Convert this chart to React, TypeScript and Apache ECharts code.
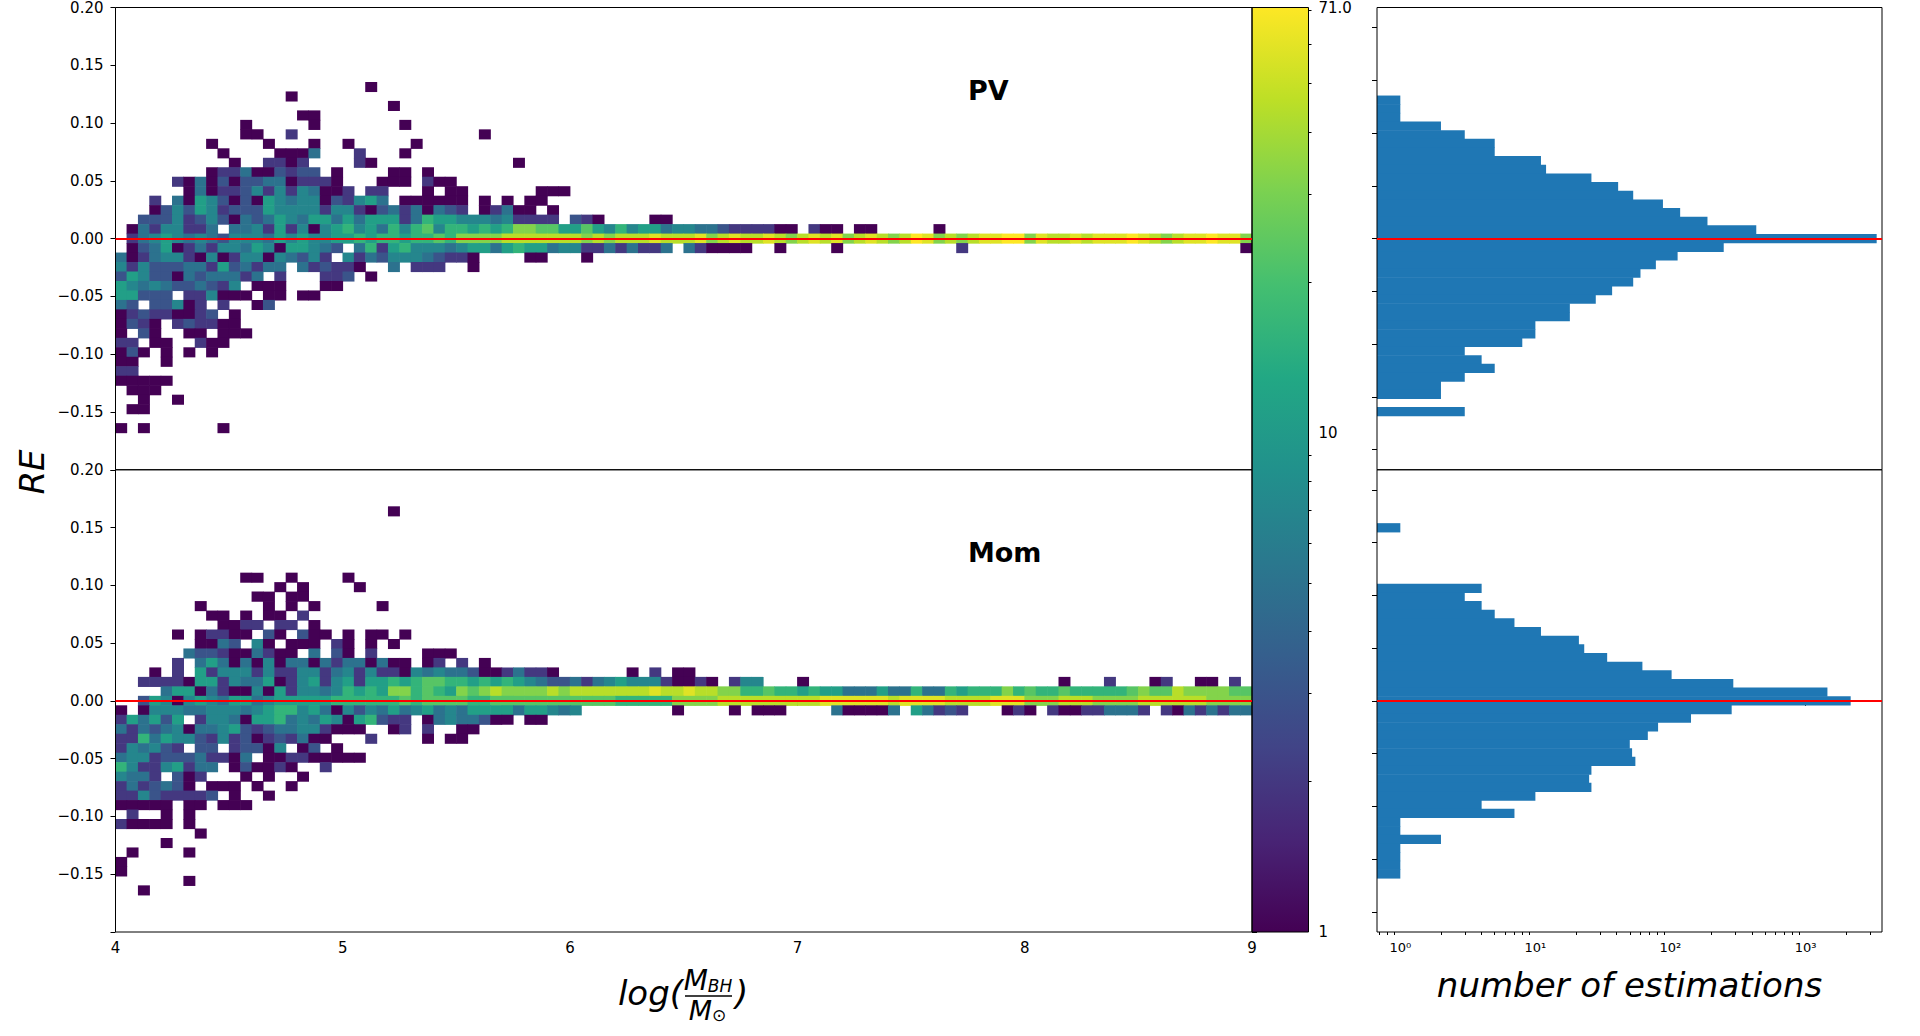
import React, { useEffect, useRef } from 'react';
import * as echarts from 'echarts';

// ------------------------------------------------------------------ data
const X_START = 4; // first x-bin edge  (log M_BH / M_sun)
const X_BIN = 0.05; // x-bin width
const Y_BIN = 0.0082; // RE bin height, rows centred on k * Y_BIN

const xTickValues = [4, 5, 6, 7, 8, 9];
const reTickValues = [-0.2, -0.15, -0.1, -0.05, 0, 0.05, 0.1, 0.15, 0.2];
const colorbarMajor = [1, 10, 71];
const colorbarMinor = [2, 3, 4, 5, 6, 7, 8, 9, 20, 30, 40, 50, 60, 70];
const histMajor = [1, 10, 100, 1000];
const histMinor = [0.7, 0.8, 0.9, 2, 3, 4, 5, 6, 7, 8, 9, 20, 30, 40, 50, 60, 70, 80, 90, 200, 300, 400, 500, 600, 700, 800, 900, 2000, 3000];
const panelNames = ['PV', 'Mom'];
const panelNamePos = [7.75, 0.1285];

const COUNT_MAX = 71;
// colour-level code -> number of estimations in the cell
const levelCounts: Record<string, number> = { '1': 1, '2': 2, '3': 3, '4': 5, '5': 7, '6': 11, '7': 16, '8': 23, '9': 32, a: 45, b: 58, c: 71 };

type Seg = [number, string]; // [first column index, level codes ('.' = empty)]

// PV panel: [row k, segments]
const pvRows: [number, Seg[]][] = [
  [16, [[22, '1']]],
  [15, [[15, '1']]],
  [14, [[24, '1']]],
  [13, [[16, '11']]],
  [12, [[11, '1'], [17, '1'], [25, '1']]],
  [11, [[11, '11'], [15, '2'], [32, '1']]],
  [10, [[8, '1'], [13, '1'], [17, '1'], [20, '1'], [26, '1']]],
  [9, [[9, '1'], [14, '1114'], [21, '2'], [25, '1']]],
  [8, [[10, '1'], [13, '2212'], [21, '21'], [35, '1']]],
  [7, [[8, '1224113233'], [19, '1'], [24, '11'], [27, '1']]],
  [6, [[5, '214131334412221'], [23, '111'], [27, '211']]],
  [5, [[6, '14122352525411'], [20, '2'], [22, '22'], [27, '1'], [29, '11'], [37, '111']]],
  [4, [[3, '2.4165313165455132564.111111'], [32, '1'], [34, '1'], [36, '11']]],
  [3, [[3, '1353652333655552552134241432.12411.1']]],
  [2, [[2, '3335235314346546646466624766555452222.321'], [47, '11']]],
  [1, [[1, '14255224.44526251567564757857767679988668657566455443222211.211.11'], [72, '1']]],
  [0, [[1, '24565' + '45435' + '55465' + '65566' + '76776' + '77879' + '999aa' + 'aaaaa' + '9a9aa' + 'abaaa' + 'b9aba' + 'aba9a' + 'bab9a' + 'ba9ac' + 'b9a9a' + 'bbcc9' + 'baaba' + 'bbbcb' + 'a9abb' + 'cbb9']]],
  [-1, [[1, '13461' + '24255' + '46516' + '6543.' + '47267' + '55545' + '66467' + '66455' + '22424' + '224.4' + '21111'], [58, '1'], [63, '1'], [74, '2'], [99, '1']]],
  [-2, [[0, '41245' + '52151' + '25515' + '4352.' + '52435' + '55432' + '21'], [36, '11'], [41, '1']]],
  [-3, [[0, '52533' + '34426' + '34244' + '.4232' + '21'], [24, '4'], [26, '222'], [31, '1']]],
  [-4, [[0, '36533' + '14344' + '424.2'], [18, '223'], [22, '1']]],
  [-5, [[0, '65454' + '33432' + '5.111'], [18, '11']]],
  [-6, [[0, '66333' + '.2251' + '11.11'], [16, '11']]],
  [-7, [[0, '43.33512.2'], [12, '13']]],
  [-8, [[0, '123221123'], [10, '1']]],
  [-9, [[0, '1321.232211']]],
  [-10, [[0, '1.31..11.111']]],
  [-11, [[0, '22.11..211']]],
  [-12, [[0, '131.1.1.1']]],
  [-13, [[0, '11..1']]],
  [-14, [[0, '22']]],
  [-15, [[0, '11111']]],
  [-16, [[1, '111']]],
  [-17, [[2, '1'], [5, '1']]],
  [-18, [[1, '11']]],
  [-20, [[0, '1.1'], [9, '1']]],
];

// Mom panel
const momRows: [number, Seg[]][] = [
  [20, [[24, '1']]],
  [13, [[11, '11'], [15, '1'], [20, '1']]],
  [12, [[14, '1'], [16, '1'], [21, '1']]],
  [11, [[12, '11'], [15, '11']]],
  [10, [[7, '1'], [13, '1'], [15, '1'], [17, '1'], [23, '1']]],
  [9, [[8, '11'], [11, '1'], [13, '11'], [16, '2']]],
  [8, [[9, '1122'], [14, '22'], [17, '1']]],
  [7, [[5, '1.12211.31.311.1.11.1']]],
  [6, [[7, '1143.51.111.21.1.1']]],
  [5, [[6, '4332114211.4.31.2'], [27, '111']]],
  [4, [[5, '2.4641415144142441411.12.2.1']]],
  [3, [[3, '1.2.62555252255245252215454431124221'], [45, '1.2.11']]],
  [2, [[2, '22221' + '66254' + '46125' + '62562' + '66767' + '88776' + '76765' + '43342' + '45655' + '52112' + '1.255'], [60, '1'], [83, '1'], [87, '2'], [91, '12'], [95, '11'], [98, '2']]],
  [1, [[4, '46614' + '21151' + '62554' + '57676' + '99787' + '6989a' + '9999a' + '9aaaa' + 'aaaba' + 'abaa9' + '97787' + '76766' + '44464' + '47447' + '67779' + '78778' + '77777' + '8988a' + '99998' + '8']]],
  [0, [[2, '36515' + '65466' + '45666' + '66777' + '77787' + '88887' + '78888' + '88888' + '88777' + '77999' + '9' + 'aaaaaaaaa' + 'bbbbbb' + 'a' + 'bbbb' + 'aaaa' + 'bbb' + '999' + 'aaa' + '9999' + 'aaaaaa' + '9999']]],
  [-1, [[0, '1.155' + '54455' + '54567' + '75641' + '53546' + '45645' + '46666' + '46654' + '5'], [49, '1'], [54, '1.111'], [63, '411114.64232'], [78, '121.211224442.21424244']]],
  [-2, [[0, '26463' + '6.255' + '41667' + '45465' + '16732' + '2.145' + '44311' + '.11']]],
  [-3, [[0, '42434' + '51445' + '63234' + '45521' + '11'], [24, '12.2'], [30, '11']]],
  [-4, [[0, '22746' + '55325' + '23123' + '2411'], [22, '2'], [27, '1.11']]],
  [-5, [[0, '254532.33.23315.13.1']]],
  [-6, [[0, '455233342214.112211111']]],
  [-7, [[0, '752256244.131121'], [18, '2']]],
  [-8, [[0, '5442.312'], [11, '1.1'], [16, '1']]],
  [-9, [[0, '2423431.111.1'], [15, '1']]],
  [-10, [[0, '225322223.1..1']]],
  [-11, [[0, '11111.11.111']]],
  [-12, [[1, '2..1.1']]],
  [-13, [[0, '21111.1']]],
  [-14, [[7, '1']]],
  [-15, [[4, '1']]],
  [-16, [[1, '1'], [6, '1']]],
  [-17, [[0, '1']]],
  [-18, [[0, '1']]],
  [-19, [[6, '1']]],
  [-20, [[2, '1']]],
];

// marginal histograms (counts per RE row, from the top row downwards)
const pvHistTopRow = 16;
const pvHistCounts = [1, 1, 1, 2, 3, 5, 5, 11, 12, 26, 41, 53, 88, 118, 188, 432, 3365, 248, 113, 78, 60, 53, 37, 28, 18, 18, 10, 10, 8, 3, 4, 5, 3, 2, 2, 0, 3];
const momHistTopRow = 20;
const momHistCounts = [1, 0, 0, 0, 0, 0, 0, 4, 3, 4, 5, 7, 11, 21, 23, 34, 62, 102, 292, 1453, 2160, 284, 142, 81, 68, 50, 52, 55, 26, 25, 26, 10, 4, 7, 1, 1, 2, 1, 1, 1, 1];

// ------------------------------------------------------------------ style / layout
const FONT = 'DejaVu Sans';
const VIRIDIS = ['#440154', '#482475', '#414487', '#355f8d', '#2a788e', '#21918c', '#22a884', '#44bf70', '#7ad151', '#bddf26', '#fde725'];
const HIST_COLOR = '#1f77b4';
const RED = '#ff0000';

const HEAT_L = 115.5;
const HEAT_R = 1252;
const CB_R = 1308.5;
const HIST_L = 1377;
const HIST_R = 1882;
const TOP = 7.5;
const MID = 469.75;
const BOT = 932;

const HIST_X_MIN = 0.672;
const HIST_X_MAX = 3684;
const HIST_Y_LIM = 0.219;

function buildCells(rows: [number, Seg[]][]) {
  const out: number[][] = [];
  for (const [k, segs] of rows) {
    for (const [start, codes] of segs) {
      for (let j = 0; j < codes.length; j++) {
        const ch = codes[j];
        if (ch === '.') continue;
        const c = levelCounts[ch];
        out.push([X_START + (start + j) * X_BIN, k * Y_BIN, c, Math.log10(c)]);
      }
    }
  }
  return out;
}

function buildHist(topRow: number, counts: number[]) {
  const out: number[][] = [];
  counts.forEach((c, i) => {
    if (c > 0) out.push([c, (topRow - i) * Y_BIN]);
  });
  return out;
}

const SUP: Record<string, string> = { '0': '\u2070', '1': '\u00b9', '2': '\u00b2', '3': '\u00b3' };

function fmtRE(v: number) {
  if (v < -0.199) return '';
  const s = Math.abs(v).toFixed(2);
  return v < -1e-9 ? '\u2212' + s : s;
}

const tickLabel = { color: '#000', fontFamily: FONT, fontSize: 15 };
const tickLine = { color: '#000', width: 1 };

function heatRender(params: any, api: any) {
  const x0 = api.value(0);
  const yc = api.value(1);
  const a = api.coord([x0, yc + Y_BIN / 2]);
  const b = api.coord([x0 + X_BIN, yc - Y_BIN / 2]);
  return {
    type: 'rect',
    shape: { x: a[0] - 0.3, y: a[1] - 0.3, width: b[0] - a[0] + 0.6, height: b[1] - a[1] + 0.6 },
    style: { fill: api.visual('color') },
  };
}

function histRender(params: any, api: any) {
  const c = api.value(0);
  const yc = api.value(1);
  const t = api.coord([c, yc + Y_BIN / 2]);
  const b = api.coord([c, yc - Y_BIN / 2]);
  const left = params.coordSys.x;
  return {
    type: 'rect',
    shape: { x: left, y: t[1] - 0.3, width: t[0] - left, height: b[1] - t[1] + 0.6 },
    style: { fill: HIST_COLOR },
  };
}

function cbarRender(params: any, api: any) {
  const a = api.coord([0, COUNT_MAX]);
  const b = api.coord([1, 1]);
  return {
    type: 'rect',
    shape: { x: a[0], y: a[1], width: b[0] - a[0], height: b[1] - a[1] },
    style: {
      fill: new echarts.graphic.LinearGradient(0, 1, 0, 0, VIRIDIS.map((c, i) => ({ offset: i / (VIRIDIS.length - 1), color: c }))),
    },
  };
}

function nameRender(name: string) {
  return (params: any, api: any) => {
    const p = api.coord([api.value(0), api.value(1)]);
    return {
      type: 'text',
      x: p[0],
      y: p[1],
      style: { text: name, fill: '#000', fontSize: 27, fontWeight: 'bold', fontFamily: FONT, align: 'left', verticalAlign: 'middle' },
    };
  };
}

const zeroLine = {
  silent: true,
  symbol: ['none', 'none'],
  label: { show: false },
  lineStyle: { color: RED, width: 2, type: 'solid' },
  data: [{ yAxis: 0 }],
  animation: false,
};

const italic = (size: number) => ({ fontSize: size, fontStyle: 'italic', fontFamily: FONT, fill: '#000', verticalAlign: 'bottom' });

function buildOption() {
  const gridBase = { show: true, borderColor: '#000', borderWidth: 1, backgroundColor: 'transparent', z: 5, outerBoundsMode: 'none', containLabel: false };
  const cbMaxTick = colorbarMajor.map((v) => (v === COUNT_MAX ? v * 0.99999 : v));
  const noSplit = { show: false };
  return {
    animation: false,
    backgroundColor: '#fff',
    grid: [
      { ...gridBase, left: HEAT_L, top: TOP, width: HEAT_R - HEAT_L, height: MID - TOP },
      { ...gridBase, left: HEAT_L, top: MID, width: HEAT_R - HEAT_L, height: BOT - MID },
      { ...gridBase, left: HIST_L, top: TOP, width: HIST_R - HIST_L, height: MID - TOP },
      { ...gridBase, left: HIST_L, top: MID, width: HIST_R - HIST_L, height: BOT - MID },
      { ...gridBase, left: HEAT_R, top: TOP, width: CB_R - HEAT_R, height: BOT - TOP },
    ],
    xAxis: [
      { gridIndex: 0, type: 'value', min: xTickValues[0], max: xTickValues[xTickValues.length - 1], show: false, splitLine: noSplit },
      {
        gridIndex: 1,
        type: 'value',
        min: xTickValues[0],
        max: xTickValues[xTickValues.length - 1],
        interval: 1,
        axisLine: { show: false },
        axisTick: { show: true, length: 5, lineStyle: tickLine },
        axisLabel: { ...tickLabel, margin: 8, formatter: (v: number) => String(v) },
        splitLine: noSplit,
      },
      { gridIndex: 2, type: 'log', logBase: 10, min: HIST_X_MIN, max: HIST_X_MAX, show: false, splitLine: noSplit },
      {
        gridIndex: 3,
        type: 'log',
        logBase: 10,
        min: HIST_X_MIN,
        max: HIST_X_MAX,
        position: 'bottom',
        axisLine: { show: false },
        axisTick: { show: true, length: 5, lineStyle: tickLine, customValues: histMajor },
        axisLabel: {
          color: '#000',
          fontFamily: FONT,
          fontSize: 13,
          margin: 9,
          customValues: histMajor,
          formatter: (v: number) => {
            const e = String(Math.round(Math.log10(v)));
            return '10' + (SUP[e] || e);
          },
        },
        splitLine: noSplit,
        minorTick: { show: false },
      },
      {
        gridIndex: 3,
        type: 'log',
        logBase: 10,
        min: HIST_X_MIN,
        max: HIST_X_MAX,
        position: 'bottom',
        axisLine: { show: false },
        axisTick: { show: true, length: 3, lineStyle: tickLine, customValues: histMinor },
        axisLabel: { show: false },
        splitLine: noSplit,
      },
      { gridIndex: 4, type: 'value', min: 0, max: 1, show: false, splitLine: noSplit },
    ],
    yAxis: [
      {
        gridIndex: 0,
        type: 'value',
        min: reTickValues[0],
        max: reTickValues[reTickValues.length - 1],
        interval: 0.05,
        axisLine: { show: false },
        axisTick: { show: true, length: 5, lineStyle: tickLine },
        axisLabel: { ...tickLabel, margin: 12, formatter: fmtRE },
        splitLine: noSplit,
      },
      {
        gridIndex: 1,
        type: 'value',
        min: reTickValues[0],
        max: reTickValues[reTickValues.length - 1],
        interval: 0.05,
        axisLine: { show: false },
        axisTick: { show: true, length: 5, lineStyle: tickLine },
        axisLabel: { ...tickLabel, margin: 12, formatter: fmtRE },
        splitLine: noSplit,
      },
      {
        gridIndex: 2,
        type: 'value',
        min: -HIST_Y_LIM,
        max: HIST_Y_LIM,
        axisLine: { show: false },
        axisTick: { show: true, length: 5, lineStyle: tickLine, customValues: reTickValues },
        axisLabel: { show: false },
        splitLine: noSplit,
      },
      {
        gridIndex: 3,
        type: 'value',
        min: -HIST_Y_LIM,
        max: HIST_Y_LIM,
        axisLine: { show: false },
        axisTick: { show: true, length: 5, lineStyle: tickLine, customValues: reTickValues },
        axisLabel: { show: false },
        splitLine: noSplit,
      },
      {
        gridIndex: 4,
        type: 'log',
        logBase: 10,
        min: 1,
        max: COUNT_MAX,
        position: 'right',
        axisLine: { show: false },
        axisTick: { show: true, length: 5, lineStyle: tickLine, customValues: cbMaxTick },
        axisLabel: {
          ...tickLabel,
          margin: 10,
          customValues: cbMaxTick,
          formatter: (v: number) => (Math.round(v) === COUNT_MAX ? COUNT_MAX.toFixed(1) : String(Math.round(v))),
        },
        splitLine: noSplit,
      },
      {
        gridIndex: 4,
        type: 'log',
        logBase: 10,
        min: 1,
        max: COUNT_MAX,
        position: 'right',
        axisLine: { show: false },
        axisTick: { show: true, length: 3, lineStyle: tickLine, customValues: colorbarMinor },
        axisLabel: { show: false },
        splitLine: noSplit,
      },
    ],
    visualMap: {
      type: 'continuous',
      show: false,
      seriesIndex: [0, 1],
      dimension: 3,
      min: 0,
      max: Math.log10(COUNT_MAX),
      inRange: { color: VIRIDIS },
    },
    series: [
      { type: 'custom', xAxisIndex: 0, yAxisIndex: 0, renderItem: heatRender, data: buildCells(pvRows), encode: { x: 0, y: 1 }, markLine: zeroLine, silent: true },
      { type: 'custom', xAxisIndex: 1, yAxisIndex: 1, renderItem: heatRender, data: buildCells(momRows), encode: { x: 0, y: 1 }, markLine: zeroLine, silent: true },
      { type: 'custom', xAxisIndex: 2, yAxisIndex: 2, renderItem: histRender, data: buildHist(pvHistTopRow, pvHistCounts), encode: { x: 0, y: 1 }, markLine: zeroLine, silent: true },
      { type: 'custom', xAxisIndex: 3, yAxisIndex: 3, renderItem: histRender, data: buildHist(momHistTopRow, momHistCounts), encode: { x: 0, y: 1 }, markLine: zeroLine, silent: true },
      { type: 'custom', xAxisIndex: 5, yAxisIndex: 4, renderItem: cbarRender, data: [[0, 1]], encode: { x: 0, y: 1 }, silent: true },
      { type: 'custom', xAxisIndex: 0, yAxisIndex: 0, renderItem: nameRender(panelNames[0]), data: [panelNamePos], encode: { x: 0, y: 1 }, z: 10, silent: true },
      { type: 'custom', xAxisIndex: 1, yAxisIndex: 1, renderItem: nameRender(panelNames[1]), data: [panelNamePos], encode: { x: 0, y: 1 }, z: 10, silent: true },
    ],
    graphic: [
      {
        type: 'text',
        x: 32,
        y: 472,
        rotation: Math.PI / 2,
        style: { text: 'RE', fill: '#000', fontSize: 34, fontStyle: 'italic', fontFamily: FONT, align: 'center', verticalAlign: 'middle' },
      },
      {
        type: 'text',
        x: (HIST_L + HIST_R) / 2,
        y: 985,
        style: { text: 'number of estimations', fill: '#000', fontSize: 34, fontStyle: 'italic', fontFamily: FONT, align: 'center', verticalAlign: 'middle' },
      },
      {
        type: 'text',
        x: 683,
        y: 993,
        style: { text: 'log(', fill: '#000', fontSize: 34, fontStyle: 'italic', fontFamily: FONT, align: 'right', verticalAlign: 'middle' },
      },
      {
        type: 'text',
        x: 708,
        y: 980.7,
        style: {
          text: '{m|M}{s|BH}',
          align: 'center',
          verticalAlign: 'middle',
          rich: { m: italic(28), s: italic(17) },
        },
      },
      { type: 'line', shape: { x1: 685, y1: 996, x2: 732, y2: 996 }, style: { stroke: '#000', lineWidth: 1.6 } },
      {
        type: 'text',
        x: 707.5,
        y: 1010,
        style: {
          text: '{m|M}{o|\u2299}',
          align: 'center',
          verticalAlign: 'middle',
          rich: { m: italic(27), o: { fontSize: 17, fontFamily: FONT, fill: '#000', verticalAlign: 'bottom' } },
        },
      },
      {
        type: 'text',
        x: 735,
        y: 993,
        style: { text: ')', fill: '#000', fontSize: 34, fontStyle: 'italic', fontFamily: FONT, align: 'left', verticalAlign: 'middle' },
      },
    ],
  };
}

export default function App() {
  const ref = useRef<HTMLDivElement>(null);
  useEffect(() => {
    if (!ref.current) return;
    const chart = echarts.init(ref.current, null, { renderer: 'svg' });
    chart.setOption(buildOption() as any);
    return () => chart.dispose();
  }, []);
  return <div ref={ref} style={{ position: 'fixed', left: 0, top: 0, width: 1920, height: 1036, background: '#fff' }} />;
}
